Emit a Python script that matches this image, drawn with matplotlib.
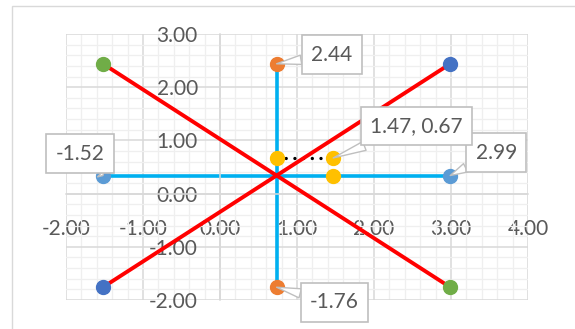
import matplotlib.pyplot as plt
from matplotlib.patches import Rectangle
from matplotlib.ticker import MultipleLocator, FormatStrFormatter

# values
horiz_x = [-1.52, 2.99]
horiz_y = [0.34, 0.34]
vert_x = [0.735, 0.735]
vert_y = [2.44, -1.76]
rise_x = [-1.52, 2.99]
rise_y = [-1.76, 2.44]
fall_x = [-1.52, 2.99]
fall_y = [2.44, -1.76]
dot_x = [0.735, 1.47]
dot_y = [0.67, 0.67]
extra_x = [1.47]
extra_y = [0.34]

# data labels: (x, y, text, box offset in pixels)
labels = [
    (-1.52, 0.34, '-1.52', (-23, 22)),
    (2.99, 0.34, '2.99', (46, 23)),
    (0.735, 2.44, '2.44', (55, 9)),
    (0.735, -1.76, '-1.76', (58, -15)),
    (1.47, 0.67, '1.47, 0.67', (83, 32)),
]

FONT = ['Lato', 'DejaVu Sans']
TXT = '#595959'
FS = 15

fig = plt.figure(figsize=(5.75, 3.29), dpi=100)
ax = fig.add_axes([66 / 575, 1 - 300 / 329, (528 - 66) / 575, (300 - 34) / 329])

# outer chart border (only top/left visible in the crop)
fig.add_artist(Rectangle((12 / 575, -0.1), 1.2, 1 - 6 / 329 + 0.1,
                         transform=fig.transFigure, fill=False,
                         ec='#d9d9d9', lw=1))

ax.set_xlim(-2, 4)
ax.set_ylim(-2, 3)
ax.xaxis.set_major_locator(MultipleLocator(1))
ax.yaxis.set_major_locator(MultipleLocator(1))
ax.xaxis.set_minor_locator(MultipleLocator(0.2))
ax.yaxis.set_minor_locator(MultipleLocator(0.2))
ax.xaxis.set_major_formatter(FormatStrFormatter('%.2f'))
ax.yaxis.set_major_formatter(FormatStrFormatter('%.2f'))
ax.grid(which='major', color='#d9d9d9', lw=1.1, zorder=0)
ax.grid(which='minor', color='#efefef', lw=0.9, zorder=0)
ax.set_axisbelow(True)

ax.spines['left'].set_position(('data', 0))
ax.spines['bottom'].set_position(('data', 0))
for s in ['left', 'bottom']:
    ax.spines[s].set_color('#d9d9d9')
    ax.spines[s].set_linewidth(1.1)
for s in ['top', 'right']:
    ax.spines[s].set_visible(False)

ax.tick_params(which='both', length=0)
ax.tick_params(axis='x', pad=18.5, labelsize=FS, labelcolor=TXT)
ax.tick_params(axis='y', pad=16, labelsize=FS, labelcolor=TXT)
for lab in ax.get_xticklabels() + ax.get_yticklabels():
    lab.set_family(FONT)

# lines
ax.plot(horiz_x, horiz_y, color='#00b0f0', lw=2.6, zorder=2, solid_capstyle='butt')
ax.plot(vert_x, vert_y, color='#00b0f0', lw=2.6, zorder=2, solid_capstyle='butt')
ax.plot(rise_x, rise_y, color='#ff0000', lw=2.8, zorder=3)
ax.plot(fall_x, fall_y, color='#ff0000', lw=2.8, zorder=3)
ax.plot(dot_x, dot_y, color='black', lw=2.4, linestyle=(0, (0.01, 2.6)),
        dash_capstyle='round', zorder=2.5)

# markers
ms = 10
ax.plot(horiz_x, horiz_y, 'o', color='#5b9bd5', ms=ms, zorder=4)
ax.plot(vert_x, vert_y, 'o', color='#ed7d31', ms=ms, zorder=4)
ax.plot(rise_x, rise_y, 'o', color='#4472c4', ms=ms, zorder=4)
ax.plot(fall_x, fall_y, 'o', color='#70ad47', ms=ms, zorder=4)
ax.plot(dot_x, dot_y, 'o', color='#ffc000', ms=ms, zorder=4)
ax.plot(extra_x, extra_y, 'o', color='#ffc000', ms=ms, zorder=4)

for x, y, txt, off in labels:
    ax.annotate(txt, xy=(x, y), xytext=off, textcoords='offset pixels',
                ha='center', va='center', fontsize=FS, color=TXT, family=FONT,
                bbox=dict(boxstyle='square,pad=0.45', fc='white', ec='#bfbfbf', lw=1.2),
                arrowprops=dict(arrowstyle='wedge,tail_width=0.45', fc='white',
                                ec='#bfbfbf', lw=1.0, shrinkA=0, shrinkB=0),
                zorder=6, annotation_clip=False)

fig.savefig('out.png', dpi=100)
